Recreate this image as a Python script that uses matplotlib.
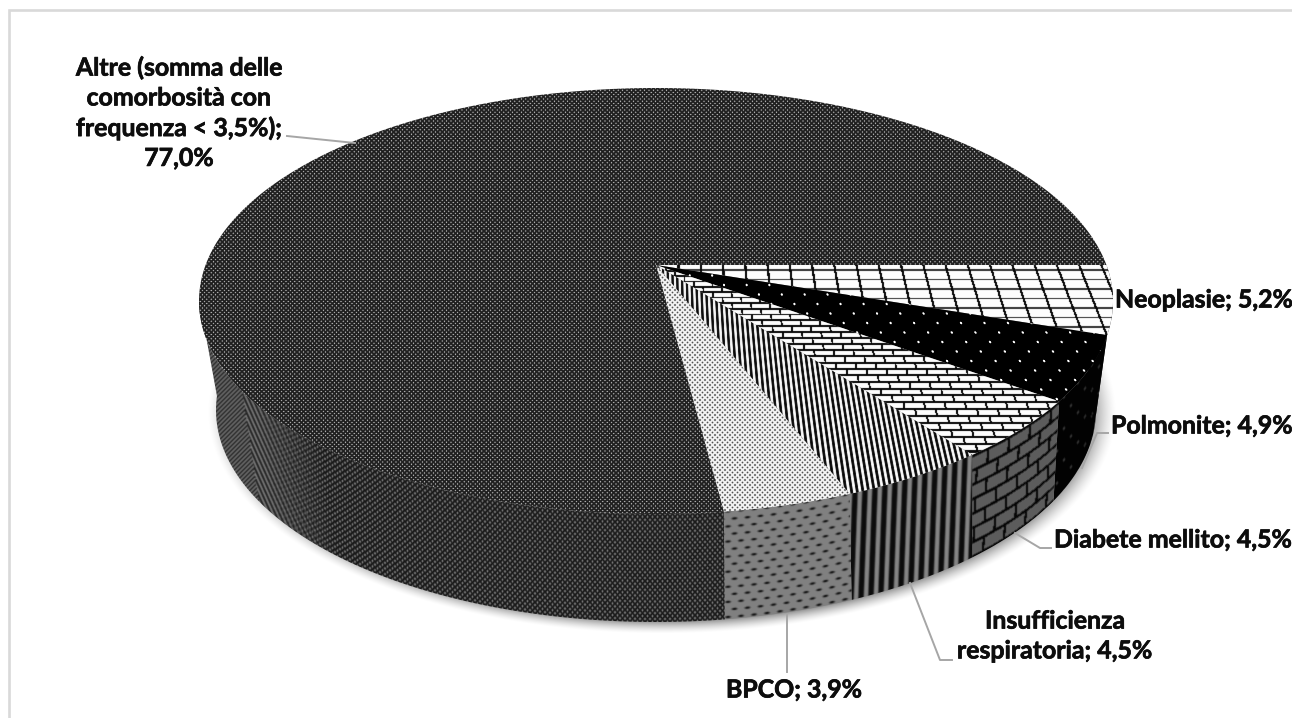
import numpy as np
import matplotlib
matplotlib.use('Agg')
import matplotlib.pyplot as plt
import matplotlib.patheffects as pe
from matplotlib.patches import Polygon

W, H = 1292, 718

names = ['Neoplasie', 'Polmonite', 'Diabete mellito', 'Insufficienza\nrespiratoria', 'BPCO',
         'Altre (somma delle\ncomorbosità con\nfrequenza < 3,5%);\n']
values = [5.2, 4.9, 4.5, 4.5, 3.9, 77.0]

# label anchor (x, y, ha) in pixels and leader polylines
label_pos = [(1115, 300, 'left'), (1111, 426, 'left'), (1054, 540, 'left'),
             (1055, 636, 'center'), (794, 690, 'center'), (179, 113, 'center')]
leaders = [None,
           [(1082, 468), (1097, 433), (1108, 433)],
           [(1015, 533), (1040, 548), (1051, 548)],
           [(910, 583), (940, 660), (952, 660)],
           [(787, 615), (787, 672)],
           [(287, 136), (355, 143)]]

CX = 656
TOP = dict(cy=301, rx=457, ry=213, a=0.169)
BOT = dict(cy=410, rx=440, ry=212, a=0.22)


def rim(theta, cy, rx, ry, a):
    # clockwise angle on the disc -> pixel position, with perspective
    th = np.radians(theta)
    u, v = np.cos(th), -np.sin(th)
    den = 1 + a * v
    return CX + rx * u * np.sqrt(1 - a ** 2) / den, cy - ry * (v + a) / den


X, Y = np.meshgrid(np.arange(W) + 0.5, np.arange(H) + 0.5)
S = (X - CX) / (Y + 800) * 1230    # columns converging towards the back
yt = TOP['cy'] + TOP['ry'] * np.sqrt(np.clip(1 - ((X - CX) / TOP['rx']) ** 2, 0.01, 1))
yb = BOT['cy'] + BOT['ry'] * np.sqrt(np.clip(1 - ((X - CX) / BOT['rx']) ** 2, 0.01, 1))
D = (Y - yt) / (yb - yt) * 100     # depth along the side wall


def soften(img, k=2):
    return (k * img + np.roll(img, 1, 0) + np.roll(img, -1, 0) + np.roll(img, 1, 1) + np.roll(img, -1, 1)) / (k + 4)


def lattice(px, py, pitch_x, pitch_y):
    # offset to the nearest point of a staggered lattice
    rows = py / pitch_y
    ri = np.round(rows)
    cols = px / pitch_x + 0.5 * (ri % 2)
    return (cols - np.round(cols)) * pitch_x, (rows - ri) * pitch_y


def bricks(px, rows, pitch_x):
    ri = np.floor(rows)
    fr = rows - ri
    cols = (px / pitch_x + 0.5 * (ri % 2)) % 1
    return fr, cols * pitch_x


def top_altre():
    dx, dy = lattice(X, Y, 4.4, 2.2)
    return soften(0.11 + 0.8 * np.clip(1.5 - np.hypot(dx, dy) * 1.6, 0, 1), 8)


def top_neoplasie():
    hor = np.abs((Y - 270) % 9.5 - 4.75) > 3.9
    ver = ((S + 1) % 25.7) < 2.6
    out = np.full(X.shape, 0.99)
    out[hor] = 0.2
    out[ver] = 0.03
    return soften(out, 8)


def top_polmonite():
    dx, dy = lattice(S, Y, 25.7, 9.5)
    return np.clip(1.7 - np.hypot(dx, dy) * 1.0, 0, 1)


def top_diabete():
    h0, k = 5.2, 0.012
    rows = np.log(np.clip(h0 + k * (Y - 270), 1, None) / h0) / k
    fr, cx = bricks(S, rows, 21)
    out = np.full(X.shape, 0.99)
    out[(fr < 0.3) | (cx < 2)] = 0.03
    return soften(out, 8)


def top_insuff():
    return soften(np.clip(0.5 + 1.1 * np.cos(2 * np.pi * S / 5.4), 0.02, 1), 8)


def top_bpco():
    dx, dy = lattice(X, Y, 5, 2.5)
    return soften(0.98 - 0.85 * np.clip(1.6 - np.hypot(dx, dy) * 1.3, 0, 1), 8)


def side_neoplasie():
    return np.full(X.shape, 0.1)


def side_polmonite():
    dx, dy = lattice(X, D, 14, 17)
    return soften(0.01 + 0.35 * np.clip(1.4 - np.hypot(dx * 1.3, dy * 0.6), 0, 1))


def side_diabete():
    fr, cx = bricks(X + 0.05 * D, D / 14, 21)
    out = np.full(X.shape, 0.36)
    out[(fr < 0.2) | (cx < 2.2)] = 0.03
    return soften(out)


def side_insuff():
    ph = (X + 0.04 * D) / 10
    return soften(0.05 + 0.47 * np.clip(0.35 + 1.0 * np.cos(2 * np.pi * ph), 0, 1))


def side_bpco():
    dx, dy = lattice(X, D, 13, 7)
    return soften(0.5 - 0.45 * np.clip(1.5 - np.hypot(dx / 2.6, dy / 1.0), 0, 1))


def side_altre():
    dx, dy = lattice(X, D, 5, 2.7)
    base = 0.1 + 0.62 * np.clip(1.4 - np.hypot(dx, dy * 0.7) * 1.3, 0, 1)
    # woven wall that turns into a herringbone towards the far left
    fold = 243 + (Y - 395) * 0.15
    down = 0.14 + 0.34 * np.clip(0.4 + np.cos(2 * np.pi * (X + Y) / 4.5), 0, 1)
    up = 0.14 + 0.34 * np.clip(0.4 + np.cos(2 * np.pi * (X - 0.45 * Y) / 4.2), 0, 1)
    woven = np.where(X < fold, down, up)
    mix = np.clip((X - fold - 10) / 60, 0, 1)
    return soften(mix * base + (1 - mix) * woven)


top_tex = [top_neoplasie, top_polmonite, top_diabete, top_insuff, top_bpco, top_altre]
side_tex = [side_neoplasie, side_polmonite, side_diabete, side_insuff, side_bpco, side_altre]

fig = plt.figure(figsize=(W / 100, H / 100), dpi=100)
ax = fig.add_axes([0, 0, 1, 1])
ax.set_xlim(0, W)
ax.set_ylim(H, 0)
ax.axis('off')


def textured(pts, tex, z):
    patch = Polygon(pts, closed=True, transform=ax.transData, facecolor='none', edgecolor='none', zorder=z)
    ax.add_patch(patch)
    im = ax.imshow(tex, cmap='gray', vmin=0, vmax=1, extent=(0, W, H, 0), interpolation='nearest',
                   aspect='auto', zorder=z)
    im.set_clip_path(patch)


# frame, open on the right and at the bottom
ax.plot([9, 9, W], [H, 10, 10], color='#d9d9d9', lw=1.9, solid_joinstyle='miter', zorder=1)

# soft shadow under the pie
e = np.hypot((X - 662) / 455, (Y - 412) / 222)
shadow = np.zeros((H, W, 4))
shadow[..., 3] = 0.45 * np.clip((1 - e) / 0.06, 0, 1) ** 1.5
ax.imshow(shadow, extent=(0, W, H, 0), interpolation='bilinear', aspect='auto', zorder=2)

edges = np.concatenate([[0], np.cumsum(values)]) * 3.6

# side walls, back to front
for i in range(len(values)):
    t0, t1 = edges[i], edges[i + 1]
    if i == len(values) - 1:
        t1 = 171    # the rest of the wall is hidden behind the top
    th = np.linspace(t0, t1, 120)
    top_x, top_y = rim(th, **TOP)
    bot_x, bot_y = rim(th, **BOT)
    pts = np.column_stack([np.r_[top_x, bot_x[::-1]], np.r_[top_y, bot_y[::-1]]])
    textured(pts, side_tex[i](), 3 + i * 0.1)

# top slices from the hub
hub = (CX, TOP['cy'] - TOP['ry'] * TOP['a'])
for i in range(len(values)):
    th = np.linspace(edges[i], edges[i + 1], 300)
    rx_, ry_ = rim(th, **TOP)
    pts = np.column_stack([np.r_[hub[0], rx_], np.r_[hub[1], ry_]])
    textured(pts, top_tex[i](), 5 + i * 0.1)

for line in leaders:
    if line:
        xs, ys = zip(*line)
        ax.plot(xs, ys, color='#a6a6a6', lw=1.4, zorder=6)

for name, val, (lx, ly, ha) in zip(names, values, label_pos):
    if name.endswith('\n'):
        label = name + f'{val:.1f}%'.replace('.', ',')
    else:
        label = name + '; ' + f'{val:.1f}%'.replace('.', ',')
    ax.text(lx, ly, label, ha=ha, va='center', multialignment='center', family=['Lato', 'DejaVu Sans'],
            fontweight='bold', fontsize=17.9, linespacing=1.36, color='#0d0d0d', zorder=7,
            path_effects=[pe.withStroke(linewidth=0.5, foreground='#0d0d0d')])

fig.savefig('out.png', dpi=100)
